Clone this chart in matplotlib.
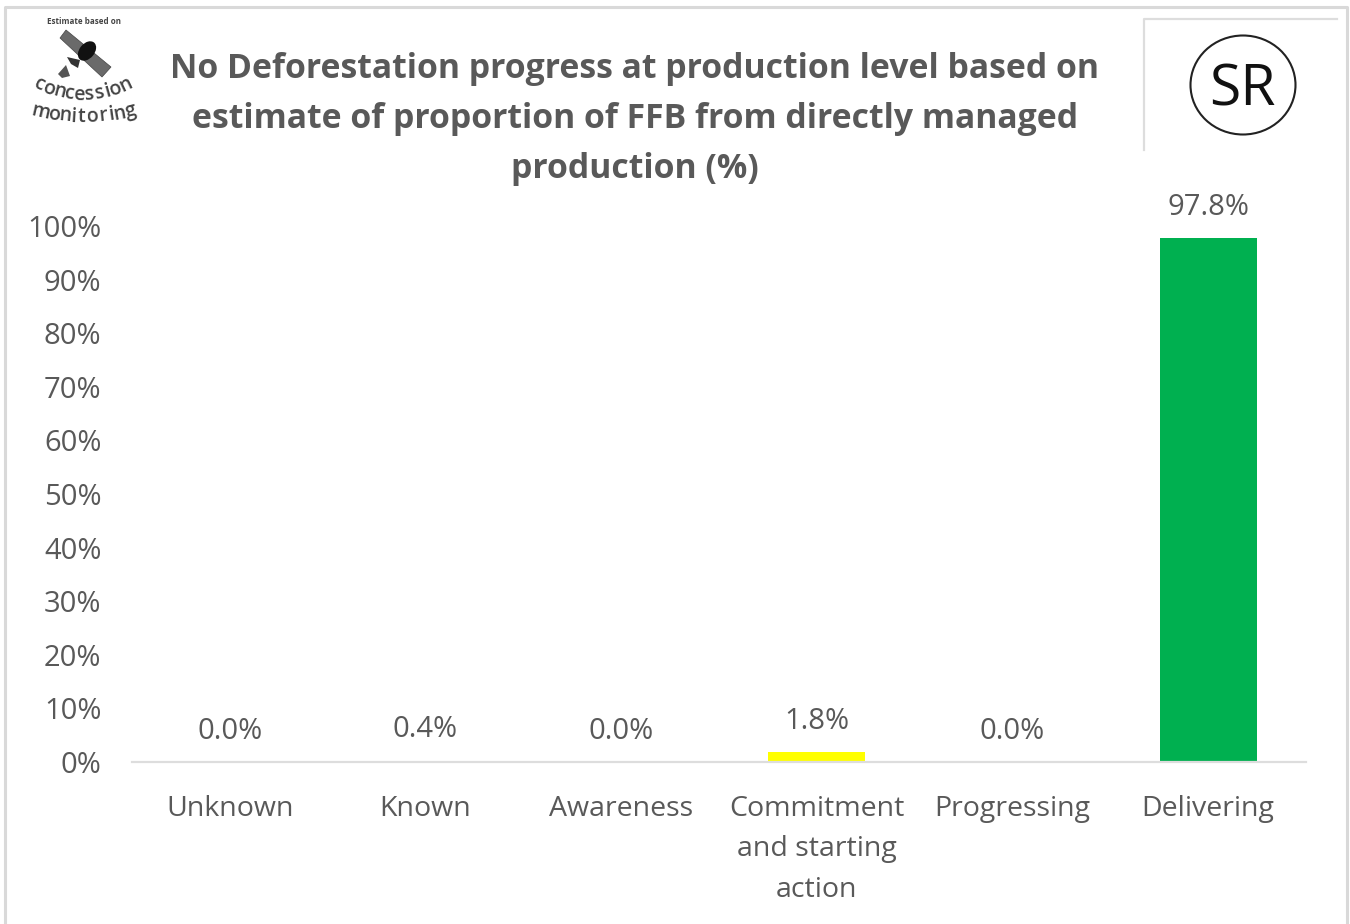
import math
import matplotlib
matplotlib.use("Agg")
import matplotlib.pyplot as plt
from matplotlib.patches import Ellipse, Polygon

categories = ["Unknown", "Known", "Awareness", "Commitment\nand starting\naction", "Progressing", "Delivering"]
values = [0.0, 0.4, 0.0, 1.8, 0.0, 97.8]
bar_colors = ["#FFFFFF", "#FFFFFF", "#FFFFFF", "#FFFF00", "#FFFFFF", "#00B050"]
title = "No Deforestation progress at production level based on\nestimate of proportion of FFB from directly managed\nproduction (%)"
yticks = list(range(0, 101, 10))
logo_top = "Estimate based on"
logo_arc1 = "concession"
logo_arc2 = "monitoring"

W, H = 1350, 924
FONT = ["Open Sans", "DejaVu Sans"]
plt.rcParams["font.family"] = FONT
fig = plt.figure(figsize=(W / 100, H / 100), dpi=100, facecolor="white")

ov = fig.add_axes([0, 0, 1, 1], zorder=5)
ov.set_xlim(0, W); ov.set_ylim(H, 0); ov.axis("off"); ov.patch.set_alpha(0)
ov.plot([5, 5, 1347, 1347], [924, 7, 7, 924], color="#D9D9D9", lw=2.2)
ov.plot([1144, 1144, 1337], [150, 19, 19], color="#DDDDDD", lw=1.6)
ov.add_patch(Ellipse((1243, 85), 105, 99, fill=False, ec="#222222", lw=1.5))
ov.text(1242, 84, "SR", fontsize=41, color="#111111", ha="center", va="center_baseline")

# logo
ov.text(84, 22, logo_top, fontsize=5.8, fontweight="bold", color="#444444", ha="center", va="center")
ov.add_patch(Polygon([(60, 38), (66, 30), (111, 67), (102, 77)], fc="#6A6A6A", ec="#444444", lw=0.5))
ov.add_patch(Ellipse((87, 51), 15, 22, angle=40, fc="#111111", ec="none"))
ov.add_patch(Polygon([(67, 57), (80, 60), (78, 68), (71, 64)], fc="#333333", ec="none"))
ov.add_patch(Polygon([(58, 74), (66, 65), (70, 76), (62, 78)], fc="#555555", ec="none"))


def arc_text(s, x0, x1, ymid, rise, size):
    cx = (x0 + x1) / 2
    half = (x1 - x0) / 2
    widths = [0.55 if c in "i" else (1.5 if c == "m" else 1.0) for c in s]
    total = sum(widths)
    pos = 0.0
    for c, w in zip(s, widths):
        t = (x0 + (pos + w / 2) / total * (x1 - x0) - cx) / half
        pos += w
        x = cx + t * half
        y = ymid - rise * t * t
        ang = math.degrees(math.atan(2 * rise * t / half))
        ov.text(x, y, c, fontsize=size, color="#444444", ha="center", va="center", rotation=ang,
                rotation_mode="anchor", fontweight="semibold")


arc_text(logo_arc1, 34, 131, 95, 13, 14)
arc_text(logo_arc2, 33, 136, 117, 7, 14)

# chart
left, right, top, bottom = 132, 1306, 226, 762
ax = fig.add_axes([left / W, 1 - bottom / H, (right - left) / W, (bottom - top) / H])
x = range(len(categories))
ax.bar(x, values, width=0.497, color=bar_colors)
ax.set_xlim(-0.5, 5.5)
ax.set_ylim(0, 100)
for s in ["top", "left", "right"]:
    ax.spines[s].set_visible(False)
ax.spines["bottom"].set_color("#DDDDDD")
ax.spines["bottom"].set_linewidth(1.6)
ax.set_yticks(yticks, [f"{t}%" for t in yticks], fontsize=21, color="#595959")
ax.set_xticks(list(x))
ax.set_xticklabels(categories, fontsize=20.5, color="#595959", linespacing=1.61)
ax.tick_params(axis="both", length=0)
ax.tick_params(axis="x", pad=23.5)
ax.tick_params(axis="y", pad=22)
for i, v in enumerate(values):
    ax.annotate(f"{v:.1f}%", (i, v), xytext=(0, 16), textcoords="offset pixels",
                ha="center", va="bottom", fontsize=21, color="#595959")

ov.text(635, 119, title, fontsize=24.3, fontweight="bold", color="#595959", ha="center", va="center", linespacing=1.6)

fig.savefig("out.png", dpi=100)
